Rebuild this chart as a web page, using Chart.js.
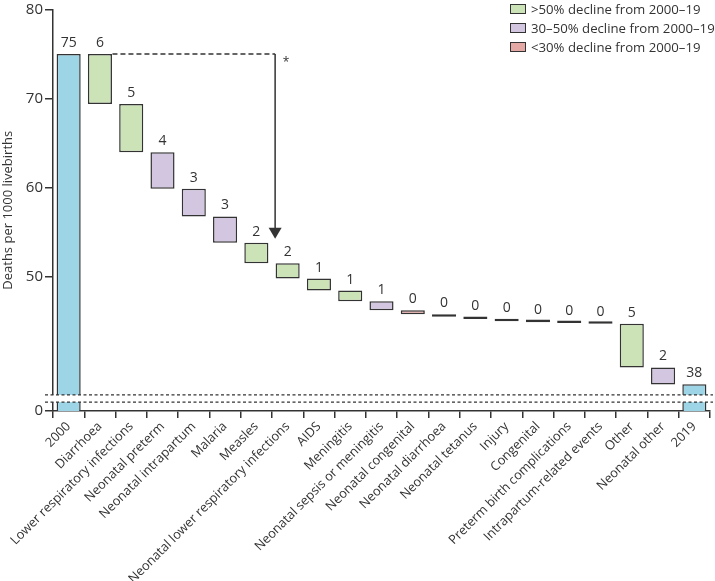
<!DOCTYPE html>
<html>
<head>
<meta charset="utf-8">
<title>Deaths per 1000 livebirths, 2000–2019</title>
<script src="https://cdn.jsdelivr.net/npm/chart.js@4.4.1/dist/chart.umd.min.js"></script>
<style>
  html, body { margin: 0; padding: 0; background: #fff; }
  #wrap { position: relative; width: 715px; height: 581px; }
  #legend {
    position: absolute; left: 510px; top: 0px;
    font: 13.2px "Open Sans", sans-serif; color: #333;
  }
  #legend .item { display: flex; align-items: center; height: 18.7px; white-space: nowrap; }
  #legend .box { width: 14px; height: 8px; border: 1.5px solid #333; margin-right: 5px; }
</style>
</head>
<body>
<div id="wrap">
  <canvas id="chart"></canvas>
  <div id="legend"></div>
</div>
<script>
// categories along the x axis
const causes = [
  "2000", "Diarrhoea", "Lower respiratory infections", "Neonatal preterm",
  "Neonatal intrapartum", "Malaria", "Measles", "Neonatal lower respiratory infections",
  "AIDS", "Meningitis", "Neonatal sepsis or meningitis", "Neonatal congenital",
  "Neonatal diarrhoea", "Neonatal tetanus", "Injury", "Congenital",
  "Preterm birth complications", "Intrapartum-related events", "Other", "Neonatal other", "2019"
];

// deaths per 1000 livebirths
const rate2000 = 75;
const rate2019 = 38;
// drop attributed to each cause (Diarrhoea ... Neonatal other)
const declines = [5.6, 5.4, 4.1, 3.1, 2.95, 2.3, 1.7, 1.35, 1.2, 1.0,
                  0.45, 0.3, 0.25, 0.25, 0.1, 0.1, 0.07, 4.9, 1.9];
// decline group per cause: g >50%, p 30-50%, r <30%
const groups = ["g", "g", "p", "p", "p", "g", "g", "g", "g", "p",
                "r", "g", "g", "r", "r", "p", "p", "g", "p"];

const legendText = {
  g: ">50% decline from 2000–19",
  p: "30–50% decline from 2000–19",
  r: "<30% decline from 2000–19"
};

// y axis ticks; the axis is broken, 0 is drawn where 35 would sit
const yTicks = [0, 50, 60, 70, 80];
const axisZeroAt = 35;
const breakFrom = 36.0, breakTo = 36.8;

// the arrow from the 2000 level (x is in category units)
const arrowX = 6.6;
const arrowFrom = 75;
const arrowTip = 54.3;

const ink = "#333";
const colors = { total: "#9dd5e7", g: "#cce3b7", p: "#d3c6e1", r: "#e4a9a5" };
const font = '"Open Sans", sans-serif';

// build the floating bars
const ranges = [[0, rate2000]];
const barLabels = [String(rate2000)];
const barColors = [colors.total];
let level = rate2000;
declines.forEach((d, i) => {
  ranges.push([level - d, level]);
  barLabels.push(String(Math.round(d)));
  barColors.push(colors[groups[i]]);
  level -= d;
});
ranges.push([0, rate2019]);
barLabels.push(String(rate2019));
barColors.push(colors.total);

// legend
const legendEl = document.getElementById("legend");
["g", "p", "r"].forEach(k => {
  const row = document.createElement("div");
  row.className = "item";
  row.innerHTML = '<span class="box" style="background:' + colors[k] + '"></span><span></span>';
  row.lastChild.textContent = legendText[k];
  legendEl.appendChild(row);
});

const overlay = {
  id: "overlay",
  beforeDatasetsDraw(chart) {
    const { ctx, scales: { x, y } } = chart;
    const ax = x.getPixelForValue(arrowX);
    const y0 = y.getPixelForValue(arrowFrom);
    const yt = y.getPixelForValue(arrowTip);
    ctx.save();
    ctx.strokeStyle = ink;
    ctx.fillStyle = ink;
    ctx.lineWidth = 1.5;
    ctx.setLineDash([5, 3]);
    ctx.beginPath();
    ctx.moveTo(x.getPixelForValue(1.4), y0);
    ctx.lineTo(ax, y0);
    ctx.stroke();
    ctx.setLineDash([]);
    ctx.beginPath();
    ctx.moveTo(ax, y0);
    ctx.lineTo(ax, yt - 10);
    ctx.stroke();
    ctx.beginPath();
    ctx.moveTo(ax - 6.5, yt - 11);
    ctx.lineTo(ax + 6.5, yt - 11);
    ctx.lineTo(ax, yt);
    ctx.closePath();
    ctx.fill();
    ctx.font = "12px " + font;
    ctx.textAlign = "center";
    ctx.textBaseline = "middle";
    ctx.fillText("*", x.getPixelForValue(6.95), y.getPixelForValue(74));
    ctx.restore();
  },
  afterDatasetsDraw(chart) {
    const { ctx, scales: { x, y } } = chart;
    ctx.save();
    ctx.fillStyle = ink;
    ctx.font = "14px " + font;
    ctx.textAlign = "center";
    ctx.textBaseline = "alphabetic";
    ranges.forEach((r, i) => {
      ctx.fillText(barLabels[i], x.getPixelForValue(i), y.getPixelForValue(r[1]) - 7);
    });
    ctx.restore();
  },
  afterDraw(chart) {
    const { ctx, chartArea, scales: { y } } = chart;
    const yA = y.getPixelForValue(breakTo);
    const yB = y.getPixelForValue(breakFrom);
    const l = chartArea.left - 8, r = chartArea.right + 3;
    ctx.save();
    ctx.fillStyle = "#fff";
    ctx.fillRect(l, yA, r - l, yB - yA);
    ctx.strokeStyle = ink;
    ctx.lineWidth = 1.2;
    ctx.setLineDash([3, 2.5]);
    [yA, yB].forEach(py => {
      ctx.beginPath();
      ctx.moveTo(l, py);
      ctx.lineTo(r, py);
      ctx.stroke();
    });
    ctx.restore();
  }
};

new Chart(document.getElementById("chart"), {
  type: "bar",
  data: {
    labels: causes,
    datasets: [{
      data: ranges,
      backgroundColor: barColors,
      borderColor: ink,
      borderWidth: 1.5,
      borderSkipped: false,
      minBarLength: 2.6,
      categoryPercentage: 1,
      barPercentage: 0.77,
      clip: 0
    }]
  },
  options: {
    responsive: true,
    maintainAspectRatio: false,
    animation: false,
    layout: { padding: { top: 7, right: 5, left: 0, bottom: 0 } },
    plugins: { legend: { display: false }, tooltip: { enabled: false } },
    scales: {
      x: {
        offset: true,
        grid: { offset: true, drawOnChartArea: false, tickLength: 7, color: ink, lineWidth: 1.5 },
        border: { color: ink, width: 1.5 },
        ticks: {
          autoSkip: false, maxRotation: 45, minRotation: 45, padding: 1,
          color: ink, font: { family: font, size: 12.8 }
        },
        afterFit(scale) { scale.height = 170; }
      },
      y: {
        min: axisZeroAt,
        max: 80,
        afterBuildTicks(scale) {
          scale.ticks = yTicks.map(v => ({ value: v === 0 ? axisZeroAt : v }));
        },
        grid: { drawOnChartArea: false, tickLength: 8, color: ink, lineWidth: 1.5 },
        border: { color: ink, width: 1.5 },
        ticks: {
          padding: 2, color: ink, font: { family: font, size: 15, lineHeight: 1 },
          callback: v => (v === axisZeroAt ? "0" : v)
        },
        title: {
          display: true, text: "Deaths per 1000 livebirths", color: ink,
          font: { family: font, size: 13 }, padding: 0
        },
        afterFit(scale) { scale.width = 53; }
      }
    }
  },
  plugins: [overlay]
});
</script>
</body>
</html>
